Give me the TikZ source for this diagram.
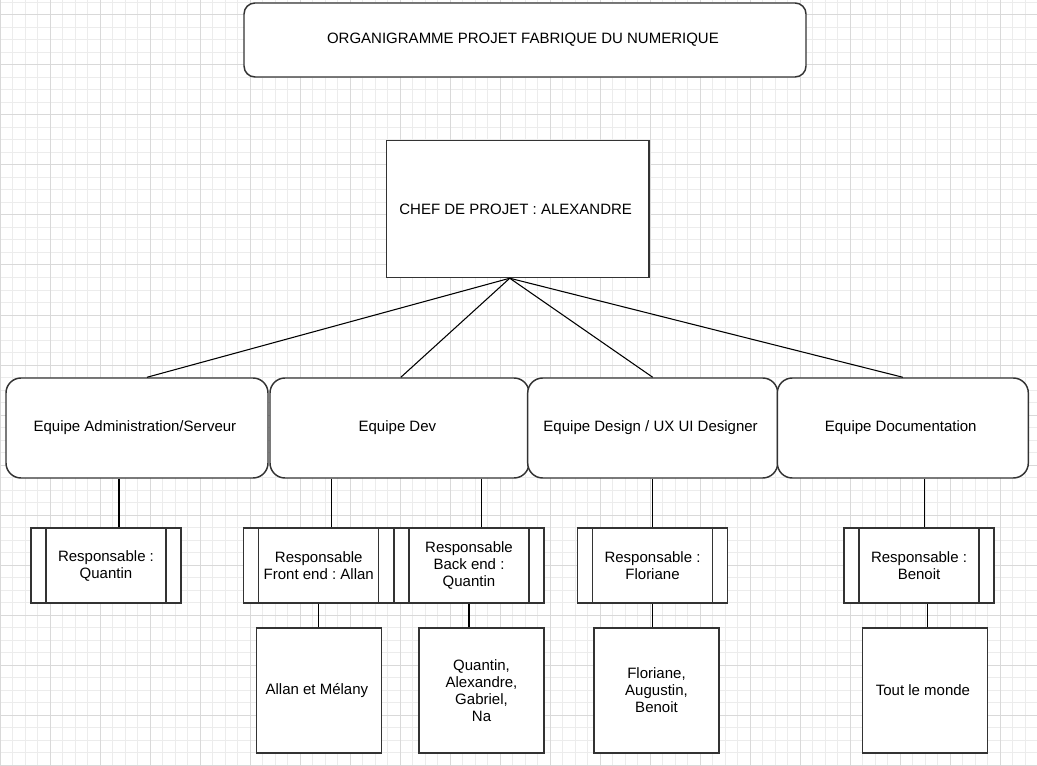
\documentclass[tikz,border=0pt]{standalone}
\usepackage{fontspec}
\setmainfont{Liberation Sans}
\usetikzlibrary{positioning}
\usepackage{xcolor}
\frenchspacing

\begin{document}
\begin{tikzpicture}[x=0.75pt, y=-0.75pt,
every node/.style={
    rectangle,
    draw=black!80,
    line width=1.1pt,
    fill=white,
    inner sep=0pt,
    align=center,
    font=\fontsize{11.25}{12.75}\selectfont
},
gridfine/.style={gray!15, line width=0.75pt},
gridmajor/.style={gray!30, line width=0.75pt},
lien/.style={black, line width=0.8pt},
titlebox/.style={rounded corners=8.25pt, minimum width=421.5pt, minimum height=55.5pt},
chefbox/.style={minimum width=196.9pt, minimum height=102.75pt},
teambox/.style={rounded corners=11.25pt, minimum height=75pt},
respbox/.style={minimum width=112.5pt, minimum height=56.25pt,
    path picture={
        \draw[black!80, line width=1.1pt] ([xshift=11.25pt]path picture bounding box.north west) -- ([xshift=11.25pt]path picture bounding box.south west);
        \draw[black!80, line width=1.1pt] ([xshift=-11.25pt]path picture bounding box.north east) -- ([xshift=-11.25pt]path picture bounding box.south east);
    }},
membox/.style={minimum width=93.75pt, minimum height=93.75pt}
]

    \useasboundingbox (0,0) rectangle (1037,766);
    \fill[white] (0,0) rectangle (1037,766);

    \foreach \i in {0,...,82} \draw[gridfine] (12.5*\i,0) -- (12.5*\i,766);
    \foreach \j in {0,...,61} \draw[gridfine] (0,2.5+12.5*\j) -- (1037,2.5+12.5*\j);
    \foreach \i in {0,...,20} \draw[gridmajor] (50*\i,0) -- (50*\i,766);
    \foreach \j in {0,...,15} \draw[gridmajor] (0,15+50*\j) -- (1037,15+50*\j);



    \node (organigramme) [titlebox, shift={(525, 40)}]
    {
        ORGANIGRAMME PROJET FABRIQUE DU NUMERIQUE
    };

    \node (chef) [chefbox, shift={(517.75, 209)}]
    {
        CHEF DE PROJET : ALEXANDRE
    };



    \node (equipe_admin) [teambox, minimum width=196.5pt, shift={(137, 428)}]
    {
        Equipe Administration/Serveur
    };

    \node (equipe_dev) [teambox, minimum width=194.25pt, shift={(399.5, 428)}]
    {
        Equipe Dev
    };

    \node (equipe_design) [teambox, minimum width=187.5pt, shift={(652.7, 428)}]
    {
        Equipe Design / UX UI Designer
    };

    \node (equipe_doc) [teambox, minimum width=188.25pt, shift={(902.8, 428)}]
    {
        Equipe Documentation
    };



    \node (resp_admin) [respbox, shift={(106, 565.5)}]
    {
        Responsable :\\ Quantin
    };

    \node (resp_front) [respbox, shift={(318.75, 565.5)}]
    {
        Responsable\\ Front end : Allan
    };

    \node (resp_back) [respbox, shift={(469, 565.5)}]
    {
        Responsable\\ Back end :\\ Quantin
    };

    \node (resp_design) [respbox, shift={(652.5, 565.5)}]
    {
        Responsable :\\ Floriane
    };

    \node (resp_doc) [respbox, shift={(919, 565.5)}]
    {
        Responsable :\\ Benoit
    };



    \node (membres_front) [membox, shift={(319, 690.5)}]
    {
        Allan et Mélany
    };

    \node (membres_back) [membox, shift={(481.5, 690.5)}]
    {
        Quantin,\\ Alexandre,\\ Gabriel,\\ Na
    };

    \node (membres_design) [membox, shift={(656.5, 690.5)}]
    {
        Floriane,\\ Augustin,\\ Benoit
    };

    \node (membres_doc) [membox, shift={(925, 690.5)}]
    {
        Tout le monde
    };


    \draw[lien] ([xshift=-6pt]chef.south) to ([xshift=7.5pt]equipe_admin.north);
    \draw[lien] ([xshift=-6pt]chef.south) to ([xshift=1pt]equipe_dev.north);
    \draw[lien] ([xshift=-6pt]chef.south) to (equipe_design.north);
    \draw[lien] ([xshift=-6pt]chef.south) to (equipe_doc.north);

    \draw[lien] ([xshift=-13.5pt]equipe_admin.south) to ([xshift=-13.5pt]equipe_admin.south |- resp_admin.north);
    \draw[lien] ([xshift=-50.9pt]equipe_dev.south) to ([xshift=-50.9pt]equipe_dev.south |- resp_front.north);
    \draw[lien] ([xshift=61.4pt]equipe_dev.south) to ([xshift=61.4pt]equipe_dev.south |- resp_back.north);
    \draw[lien] (equipe_design.south) to (equipe_design.south |- resp_design.north);
    \draw[lien] ([xshift=16.5pt]equipe_doc.south) to ([xshift=16.5pt]equipe_doc.south |- resp_doc.north);

    \draw[lien] (resp_front.south) to (resp_front.south |- membres_front.north);
    \draw[lien] (resp_back.south) to (resp_back.south |- membres_back.north);
    \draw[lien] (resp_design.south) to (resp_design.south |- membres_design.north);
    \draw[lien] ([xshift=6.2pt]resp_doc.south) to ([xshift=6.2pt]resp_doc.south |- membres_doc.north);


\end{tikzpicture}
\end{document}
